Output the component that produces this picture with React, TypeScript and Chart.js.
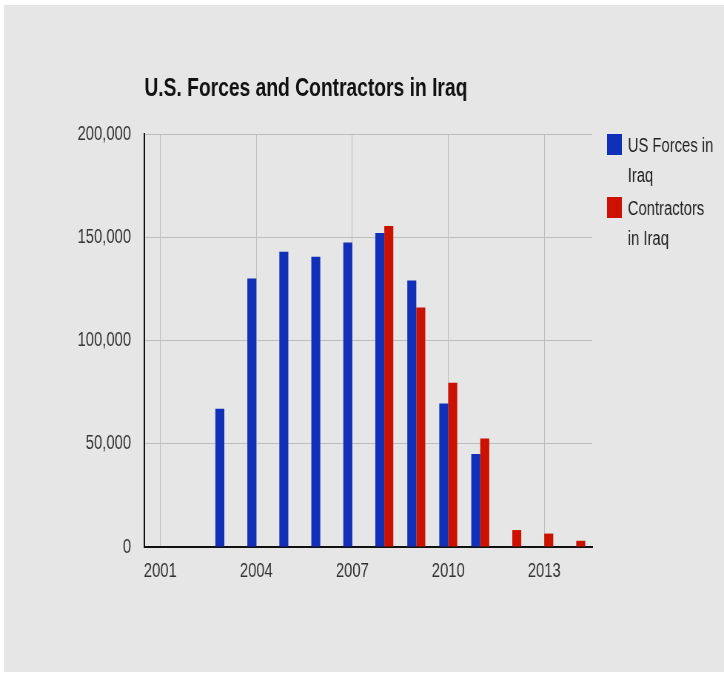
import React, { useEffect, useRef } from "react";
import { Chart, registerables } from "chart.js";

Chart.register(...registerables);

// ---- data ----
const years = ["2001", "2002", "2003", "2004", "2005", "2006", "2007", "2008", "2009", "2010", "2011", "2012", "2013", "2014"];
const usForces = [null, null, 67000, 130000, 143000, 140500, 147500, 152000, 129000, 69500, 45000, null, null, null];
const contractors = [null, null, null, null, null, null, null, 155500, 116000, 79500, 52500, 8200, 6500, 3000];
const yTicks = [0, 50000, 100000, 150000, 200000];
const titleText = "U.S. Forces and Contractors in Iraq";
const seriesNames = ["US Forces in Iraq", "Contractors in Iraq"];
const legendLines = [["US Forces in", "Iraq"], ["Contractors", "in Iraq"]];
const seriesColors = ["#1130b9", "#cc1100"];
const labelEvery = 3;

// The reference picture is horizontally compressed; reproduce that by drawing
// on a wider canvas and compressing it horizontally.
const VIEW_W = 724;
const VIEW_H = 673;
const CANVAS_W = 978;
const SX = VIEW_W / CANVAS_W;
const FONT = '"Liberation Sans", Arial, Helvetica, sans-serif';

const overlayPlugin = {
  id: "overlay",
  afterDraw(chart: any) {
    const { ctx, chartArea } = chart;
    ctx.save();
    ctx.textAlign = "left";
    ctx.textBaseline = "alphabetic";
    ctx.fillStyle = "#111111";
    ctx.font = `bold 26px ${FONT}`;
    ctx.fillText(titleText, chartArea.left, chartArea.top - 38);

    const x0 = chartArea.right + 20;
    chart.data.datasets.forEach((ds: any, i: number) => {
      const top = chartArea.top + i * 63;
      ctx.fillStyle = ds.backgroundColor;
      ctx.fillRect(x0, top, 20, 21);
      ctx.fillStyle = "#222222";
      ctx.font = `20px ${FONT}`;
      legendLines[i].forEach((ln, j) => {
        ctx.fillText(ln, x0 + 28, top + 18 + j * 29.5);
      });
    });
    ctx.restore();
  },
};

export default function App() {
  const ref = useRef<HTMLCanvasElement | null>(null);

  useEffect(() => {
    if (!ref.current) return;
    const chart = new Chart(ref.current, {
      type: "bar",
      data: {
        labels: years,
        datasets: [
          {
            label: seriesNames[0],
            data: usForces,
            backgroundColor: seriesColors[0],
            categoryPercentage: 0.5625,
            barPercentage: 1,
          },
          {
            label: seriesNames[1],
            data: contractors,
            backgroundColor: seriesColors[1],
            categoryPercentage: 0.5625,
            barPercentage: 1,
          },
        ],
      },
      options: {
        responsive: false,
        animation: false,
        devicePixelRatio: 1,
        layout: { padding: { left: 75, right: 178, top: 134, bottom: 86 } },
        plugins: {
          legend: { display: false },
          title: { display: false },
          tooltip: { enabled: false },
        },
        scales: {
          x: {
            offset: true,
            grid: { offset: false, color: "#bdbdbd", lineWidth: 1, drawTicks: false },
            border: { color: "#111111", width: 2 },
            ticks: {
              autoSkip: false,
              maxRotation: 0,
              padding: 12,
              color: "#333333",
              font: { family: FONT, size: 20 },
              callback: (_v: any, i: number) => (i % labelEvery === 0 ? years[i] : null),
            },
            afterFit: (s: any) => {
              s.height = 40;
            },
          },
          y: {
            min: 0,
            max: 200000,
            grid: { color: "#bdbdbd", lineWidth: 1, drawTicks: false },
            border: { color: "#111111", width: 2 },
            afterBuildTicks: (s: any) => {
              s.ticks = yTicks.map((v) => ({ value: v }));
            },
            ticks: {
              padding: 18,
              color: "#333333",
              font: { family: FONT, size: 20 },
              callback: (v: any) => Number(v).toLocaleString("en-US"),
            },
            afterFit: (s: any) => {
              s.width = 120;
            },
          },
        },
      },
      plugins: [overlayPlugin],
    });
    return () => chart.destroy();
  }, []);

  return (
    <div
      style={{
        position: "fixed",
        left: 0,
        top: 0,
        width: VIEW_W,
        height: VIEW_H,
        overflow: "hidden",
        background: "#ffffff",
      }}
    >
      <div
        style={{
          position: "absolute",
          left: 4,
          top: 5,
          width: VIEW_W - 4,
          height: VIEW_H - 6,
          background: "#e6e6e6",
        }}
      />
      <canvas
        ref={ref}
        width={CANVAS_W}
        height={VIEW_H}
        style={{
          position: "absolute",
          left: 0,
          top: 0,
          width: CANVAS_W,
          height: VIEW_H,
          transform: `scaleX(${SX})`,
          transformOrigin: "0 0",
        }}
      />
    </div>
  );
}
